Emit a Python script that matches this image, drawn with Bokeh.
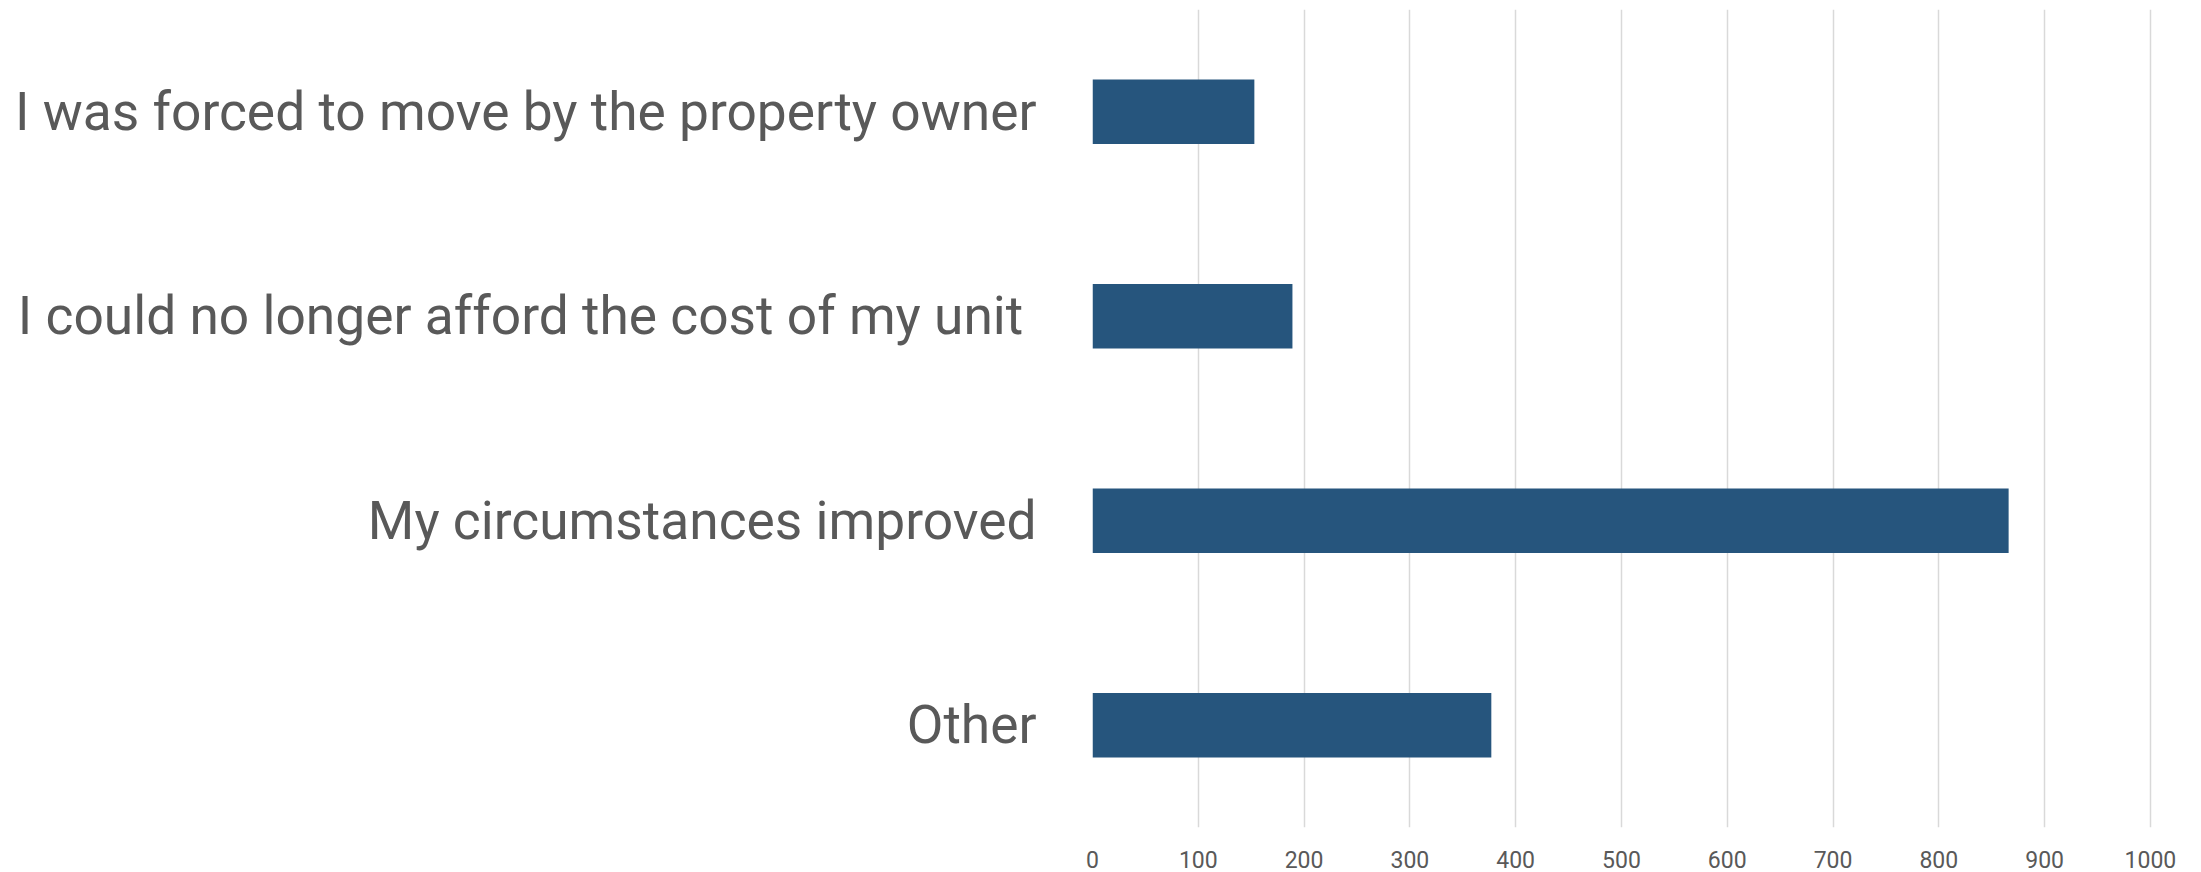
from bokeh.plotting import figure
from bokeh.models import FactorRange, Range1d, FixedTicker, ColumnDataSource
from bokeh.embed import file_html
from bokeh.resources import INLINE

categories = [
    "I was forced to move by the property owner",
    "I could no longer afford the cost of my unit ",
    "My circumstances improved",
    "Other",
]
values = [153, 189, 866, 377]
x_ticks = [0, 100, 200, 300, 400, 500, 600, 700, 800, 900, 1000]

factors = list(reversed(categories))
src = ColumnDataSource(dict(cat=categories, val=values))

W, H = 2201, 872
p = figure(
    width=W, height=H,
    y_range=FactorRange(factors=factors, range_padding=0),
    x_range=Range1d(0, 1002),
    output_backend="svg", toolbar_location=None,
    min_border_left=1092, min_border_right=49,
    min_border_top=9, min_border_bottom=45,
)
p.hbar(y="cat", right="val", left=0, height=0.315, source=src,
       fill_color="#26557D", line_color=None)

p.outline_line_color = None
p.background_fill_color = "white"
p.border_fill_color = "white"

p.ygrid.grid_line_color = None
p.xgrid.grid_line_color = "#d9d9d9"
p.xgrid.grid_line_width = 1.5
p.xgrid.ticker = FixedTicker(ticks=x_ticks)

p.xaxis.ticker = FixedTicker(ticks=x_ticks)
p.xaxis.axis_line_color = None
p.xaxis.major_tick_line_color = None
p.xaxis.minor_tick_line_color = None
p.xaxis.major_label_text_font = "Roboto"
p.xaxis.major_label_text_font_size = "23px"
p.xaxis.major_label_text_color = "#595959"
p.xaxis.major_label_standoff = 17

p.yaxis.axis_line_color = None
p.yaxis.major_tick_line_color = None
p.yaxis.minor_tick_line_color = None
p.yaxis.major_label_text_font = "Roboto"
p.yaxis.major_label_text_font_size = "53.3px"
p.yaxis.major_label_text_color = "#595959"
p.yaxis.major_label_standoff = 50

open("out.html", "w").write(file_html(p, INLINE))
